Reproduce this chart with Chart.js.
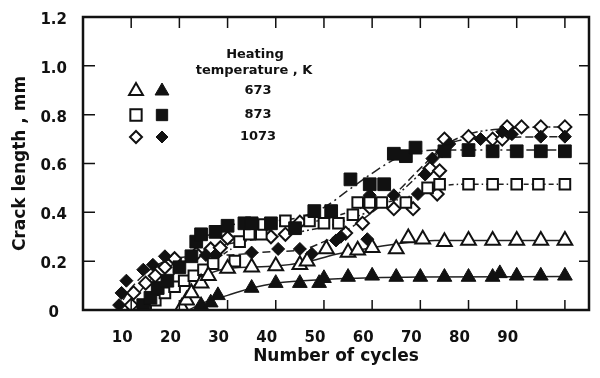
<!DOCTYPE html>
<html>
<head>
<meta charset="utf-8">
<script src="https://cdn.jsdelivr.net/npm/chart.js@4.4.0/dist/chart.umd.min.js"></script>
<style>
  html, body { margin: 0; padding: 0; background: #fff; }
  #wrap { width: 600px; height: 378px; }
</style>
</head>
<body>
<div id="wrap"><canvas id="crack"></canvas></div>
<script>
// heating temperatures, K
const temps = ['673', '873', '1073'];
const legendHead = ['Heating', 'temperature , K'];

// crack length (mm) vs number of cycles, measured points
const n673open = [20.5, 21.5, 22.5, 24.5, 26, 30, 35, 40, 45, 46.5, 50.5, 55, 57, 60, 65, 67.5, 70.5, 75, 80, 85, 90, 95, 100];
const a673open = [0.01, 0.04, 0.07, 0.11, 0.14, 0.17, 0.175, 0.18, 0.185, 0.2, 0.25, 0.235, 0.245, 0.255, 0.25, 0.295, 0.29, 0.28, 0.285, 0.285, 0.285, 0.285, 0.285];

const n673fill = [24.5, 26.5, 28, 35, 40, 45, 49, 50, 55, 60, 65, 70, 75, 80, 85, 86.5, 90, 95, 100];
const a673fill = [0.02, 0.03, 0.06, 0.09, 0.11, 0.11, 0.11, 0.13, 0.135, 0.14, 0.135, 0.135, 0.135, 0.135, 0.135, 0.15, 0.14, 0.14, 0.14];

const n873open = [13, 15, 17, 19, 21, 23, 25, 27, 31.5, 32.5, 34.5, 37, 37.5, 42, 47, 50, 53, 56, 57, 59.5, 62, 67, 71.5, 74, 80, 85, 90, 94.5, 100];
const a873open = [0.01, 0.04, 0.07, 0.095, 0.12, 0.14, 0.165, 0.19, 0.2, 0.28, 0.31, 0.31, 0.35, 0.365, 0.365, 0.355, 0.355, 0.39, 0.44, 0.44, 0.44, 0.44, 0.5, 0.515, 0.515, 0.515, 0.515, 0.515, 0.515];

const n873fill = [12.5, 14, 15.5, 17.5, 20, 22.5, 23.5, 24.5, 27.5, 30, 33.5, 35, 39, 44, 48, 51.5, 55.5, 59.5, 62.5, 64.5, 67, 69, 75, 80, 85, 90, 95, 100];
const a873fill = [0.02, 0.05, 0.09, 0.12, 0.175, 0.22, 0.28, 0.31, 0.32, 0.345, 0.355, 0.355, 0.355, 0.335, 0.405, 0.405, 0.535, 0.515, 0.515, 0.64, 0.63, 0.665, 0.65, 0.655, 0.65, 0.65, 0.65, 0.65];

const n1073open = [10, 10.5, 13, 15, 17, 19, 23.5, 26.5, 28.5, 30, 39, 42, 45, 54.5, 58, 59.5, 64.5, 68.5, 72, 73.5, 74, 75, 80, 85, 87, 88, 91, 95, 100];
const a1073open = [0.02, 0.07, 0.11, 0.14, 0.175, 0.21, 0.23, 0.25, 0.255, 0.295, 0.3, 0.31, 0.36, 0.315, 0.355, 0.42, 0.415, 0.415, 0.58, 0.475, 0.57, 0.7, 0.71, 0.7, 0.7, 0.75, 0.75, 0.75, 0.75];

const n1073fill = [7.5, 8, 9, 12.5, 14.5, 17, 25.5, 27.5, 35, 40.5, 45, 47.5, 52.5, 53.5, 59, 59.5, 64.5, 69.5, 71, 72.5, 74.5, 76, 82.5, 87, 89, 95, 100];
const a1073fill = [0.02, 0.07, 0.12, 0.165, 0.185, 0.22, 0.225, 0.225, 0.235, 0.25, 0.25, 0.23, 0.285, 0.3, 0.29, 0.47, 0.47, 0.475, 0.555, 0.62, 0.65, 0.68, 0.7, 0.73, 0.72, 0.71, 0.71];

// fitted trend curves
const f673open_n = [20, 22, 24, 27, 30, 40, 47, 53, 60, 67, 73, 100];
const f673open_a = [0, 0.07, 0.12, 0.155, 0.17, 0.18, 0.2, 0.23, 0.255, 0.275, 0.285, 0.285];

const f673fill_n = [22, 25, 30, 35, 40, 50, 60, 70, 100];
const f673fill_a = [0, 0.03, 0.06, 0.09, 0.11, 0.125, 0.132, 0.135, 0.137];

const f873open_n = [12, 15, 20, 25, 30, 35, 40, 50, 55, 60, 65, 70, 75, 80, 100];
const f873open_a = [0, 0.05, 0.11, 0.17, 0.24, 0.3, 0.34, 0.37, 0.4, 0.43, 0.45, 0.48, 0.51, 0.515, 0.515];

const f873fill_n = [12, 15, 20, 25, 30, 35, 40, 45, 50, 55, 60, 65, 70, 75, 100];
const f873fill_a = [0, 0.07, 0.17, 0.29, 0.345, 0.355, 0.365, 0.38, 0.42, 0.49, 0.56, 0.62, 0.65, 0.655, 0.655];

const f1073open_n = [9, 12, 15, 20, 25, 30, 40, 45, 50, 55, 60, 65, 70, 75, 80, 90, 100];
const f1073open_a = [0, 0.08, 0.14, 0.2, 0.24, 0.27, 0.3, 0.32, 0.34, 0.37, 0.41, 0.47, 0.56, 0.67, 0.72, 0.745, 0.75];

const f1073fill_n = [7, 10, 15, 20, 30, 40, 45, 50, 55, 60, 65, 70, 75, 80, 100];
const f1073fill_a = [0, 0.09, 0.18, 0.215, 0.225, 0.24, 0.245, 0.28, 0.33, 0.4, 0.48, 0.58, 0.67, 0.7, 0.71];

const FONT = "'DejaVu Sans', 'Liberation Sans', Arial, sans-serif";

function pts(xs, ys) {
  return xs.map((x, i) => ({ x: x, y: ys[i] }));
}

function marks(xs, ys, style, filled, r) {
  return {
    type: 'scatter',
    data: pts(xs, ys),
    pointStyle: style,
    pointRadius: r,
    pointHoverRadius: r,
    pointBackgroundColor: filled ? '#111' : '#fff',
    pointBorderColor: '#111',
    pointBorderWidth: filled ? 1 : 2,
    showLine: false,
    order: 1
  };
}

function fit(xs, ys, dash) {
  return {
    type: 'line',
    data: pts(xs, ys),
    borderColor: '#222',
    borderWidth: 1.5,
    borderDash: dash,
    pointRadius: 0,
    fill: false,
    cubicInterpolationMode: 'monotone',
    order: 2
  };
}

// small marker drawer for the legend box
function drawMark(ctx, style, filled, x, y, r) {
  ctx.beginPath();
  if (style === 'triangle') {
    for (let k = 0; k < 3; k++) {
      const a = k * 2 * Math.PI / 3;
      ctx.lineTo(x + Math.sin(a) * r, y - Math.cos(a) * r);
    }
  } else if (style === 'rect') {
    const s = r * Math.SQRT1_2;
    ctx.rect(x - s, y - s, 2 * s, 2 * s);
  } else {
    ctx.moveTo(x, y - r); ctx.lineTo(x + r, y); ctx.lineTo(x, y + r); ctx.lineTo(x - r, y);
  }
  ctx.closePath();
  ctx.fillStyle = filled ? '#111' : '#fff';
  ctx.fill();
  ctx.lineWidth = filled ? 1 : 2;
  ctx.strokeStyle = '#111';
  ctx.stroke();
}

// box frame, inward ticks on all four sides, and the key
const frame = {
  id: 'frame',
  afterDatasetsDraw(chart) {
    const { ctx, chartArea: ca, scales } = chart;
    const xs = scales.x, ys = scales.y;
    ctx.save();
    ctx.strokeStyle = '#111';
    ctx.lineWidth = 1.5;
    ctx.beginPath();
    for (let v = 10; v <= 100; v += 10) {
      const px = xs.getPixelForValue(v);
      ctx.moveTo(px, ca.bottom); ctx.lineTo(px, ca.bottom - 10);
      ctx.moveTo(px, ca.top); ctx.lineTo(px, ca.top + 11);
    }
    for (let v = 0.2; v < 1.1; v += 0.2) {
      const py = ys.getPixelForValue(v);
      ctx.moveTo(ca.left, py); ctx.lineTo(ca.left + 12, py);
      ctx.moveTo(ca.right, py); ctx.lineTo(ca.right - 10, py);
    }
    ctx.stroke();
    ctx.lineWidth = 2.5;
    ctx.strokeRect(ca.left, ca.top, ca.right - ca.left, ca.bottom - ca.top);

    // key
    const styles = ['triangle', 'rect', 'rectRot'];
    const sizes = [8, 8, 6];
    const rows = [74, 98, 120];
    ctx.fillStyle = '#111';
    ctx.textAlign = 'center';
    ctx.textBaseline = 'middle';
    ctx.font = 'bold 13px ' + FONT;
    ctx.fillText(legendHead[0], ca.left + 172, ca.top + 38);
    ctx.fillText(legendHead[1], ca.left + 171, ca.top + 54);
    temps.forEach((t, i) => {
      const y = ca.top + rows[i];
      drawMark(ctx, styles[i], false, ca.left + 53, y, sizes[i]);
      drawMark(ctx, styles[i], true, ca.left + 79, y, sizes[i]);
      ctx.fillStyle = '#111';
      ctx.fillText(t, ca.left + 175, y);
    });
    ctx.restore();
  }
};

new Chart(document.getElementById('crack'), {
  type: 'scatter',
  data: {
    datasets: [
      fit(f673fill_n, f673fill_a, []),
      fit(f673open_n, f673open_a, []),
      fit(f873open_n, f873open_a, [5, 3, 1.5, 3]),
      fit(f873fill_n, f873fill_a, [10, 4, 2, 4]),
      fit(f1073open_n, f1073open_a, [8, 3, 2, 3, 2, 3]),
      fit(f1073fill_n, f1073fill_a, [8, 4]),
      marks(n673fill, a673fill, 'triangle', true, 8.5),
      marks(n673open, a673open, 'triangle', false, 8.5),
      marks(n873fill, a873fill, 'rect', true, 9),
      marks(n873open, a873open, 'rect', false, 7.5),
      marks(n1073fill, a1073fill, 'rectRot', true, 6.5),
      marks(n1073open, a1073open, 'rectRot', false, 6.5)
    ]
  },
  options: {
    responsive: true,
    maintainAspectRatio: false,
    animation: false,
    layout: { padding: { top: 15, right: 8, left: 0, bottom: 0 } },
    plugins: {
      legend: { display: false },
      tooltip: { enabled: false }
    },
    scales: {
      x: {
        type: 'linear',
        min: 0,
        max: 105,
        grid: { display: false },
        border: { display: false },
        afterFit(scale) { scale.height = 68; },
        ticks: {
          stepSize: 10,
          padding: 11,
          labelOffset: -9,
          color: '#111',
          font: { family: FONT, size: 15, weight: 'bold' },
          callback: v => (v >= 10 && v <= 100) ? v : ''
        },
        title: {
          display: true,
          text: 'Number of cycles',
          color: '#111',
          padding: { top: 0, bottom: 11 },
          font: { family: FONT, size: 17, weight: 'bold' }
        }
      },
      y: {
        min: 0,
        max: 1.2,
        grid: { display: false },
        border: { display: false },
        afterFit(scale) { scale.width = 83; },
        ticks: {
          stepSize: 0.2,
          padding: 8,
          crossAlign: 'center',
          labelOffset: 3,
          color: '#111',
          font: { family: FONT, size: 15, weight: 'bold' },
          callback: v => v === 0 ? '0' : (Math.round(v * 10) / 10).toFixed(1)
        },
        title: {
          display: true,
          text: 'Crack length , mm',
          color: '#111',
          padding: { top: 10, bottom: 0 },
          font: { family: FONT, size: 17, weight: 'bold' }
        }
      }
    }
  },
  plugins: [frame]
});
</script>
</body>
</html>
